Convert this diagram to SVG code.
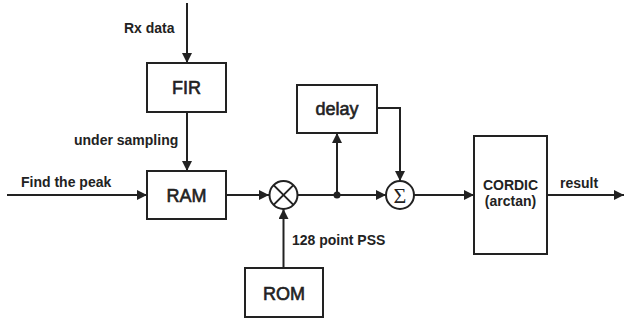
<svg xmlns="http://www.w3.org/2000/svg" width="624" height="322" viewBox="0 0 624 322">
<defs>
<style>
.box{fill:#fff;stroke:#222;stroke-width:2}
.ln{fill:none;stroke:#222;stroke-width:2}
.bl{font-family:"Liberation Sans",Arial,sans-serif;font-size:18px;fill:#222;stroke:#222;stroke-width:0.6;text-anchor:middle}
.sl{font-family:"Liberation Sans",Arial,sans-serif;font-size:14px;font-weight:bold;fill:#222}
</style>
<marker id="ah" viewBox="0 0 10 10" refX="10" refY="5" markerWidth="10" markerHeight="10" markerUnits="userSpaceOnUse" orient="auto">
<path d="M0,0 L10,5 L0,10 Z" fill="#222"/>
</marker>
</defs>
<rect width="624" height="322" fill="#fff"/>
<g id="connectors">
<line class="ln" x1="187" y1="3" x2="187" y2="63" marker-end="url(#ah)"/>
<line class="ln" x1="187" y1="112" x2="187" y2="171" marker-end="url(#ah)"/>
<line class="ln" x1="7" y1="195" x2="147" y2="195" marker-end="url(#ah)"/>
<line class="ln" x1="226" y1="195" x2="269" y2="195" marker-end="url(#ah)"/>
<line class="ln" x1="283.5" y1="268" x2="283.5" y2="209" marker-end="url(#ah)"/>
<line class="ln" x1="297.5" y1="195" x2="386" y2="195" marker-end="url(#ah)"/>
<line class="ln" x1="337" y1="195" x2="337" y2="133" marker-end="url(#ah)"/>
<polyline class="ln" points="377,108 400,108 400,181" marker-end="url(#ah)"/>
<line class="ln" x1="414" y1="195" x2="474" y2="195" marker-end="url(#ah)"/>
<line class="ln" x1="547" y1="195" x2="624" y2="195" marker-end="url(#ah)"/>
<circle cx="337" cy="195" r="3.5" fill="#222"/>
<text class="sl" x="124" y="33">Rx data</text>
<text class="sl" x="74" y="145">under sampling</text>
<text class="sl" x="21" y="187">Find the peak</text>
<text class="sl" x="292" y="245">128 point PSS</text>
<text class="sl" x="560" y="188">result</text>
</g>
<g id="fir"><rect class="box" x="147" y="63" width="79" height="49"/><text class="bl" x="186.5" y="94">FIR</text></g>
<g id="ram"><rect class="box" x="147" y="171" width="79" height="48"/><text class="bl" x="186.5" y="202">RAM</text></g>
<g id="rom"><rect class="box" x="245" y="268" width="78" height="49"/><text class="bl" x="284" y="300">ROM</text></g>
<g id="delay"><rect class="box" x="297" y="85" width="80" height="48"/><text class="bl" x="337" y="115">delay</text></g>
<g id="mult"><circle class="ln" cx="283.5" cy="195" r="14"/><line class="ln" x1="273.6" y1="185.1" x2="293.4" y2="204.9"/><line class="ln" x1="293.4" y1="185.1" x2="273.6" y2="204.9"/></g>
<g id="sum"><circle class="ln" cx="400" cy="195" r="14"/><text x="400" y="203" font-family="'Liberation Serif',serif" font-size="22" fill="#222" text-anchor="middle">Σ</text></g>
<g id="cordic"><rect class="box" x="474" y="136" width="73" height="118"/><text class="sl" x="510.5" y="190" text-anchor="middle">CORDIC</text><text class="sl" x="510.5" y="206" text-anchor="middle">(arctan)</text></g>
</svg>
